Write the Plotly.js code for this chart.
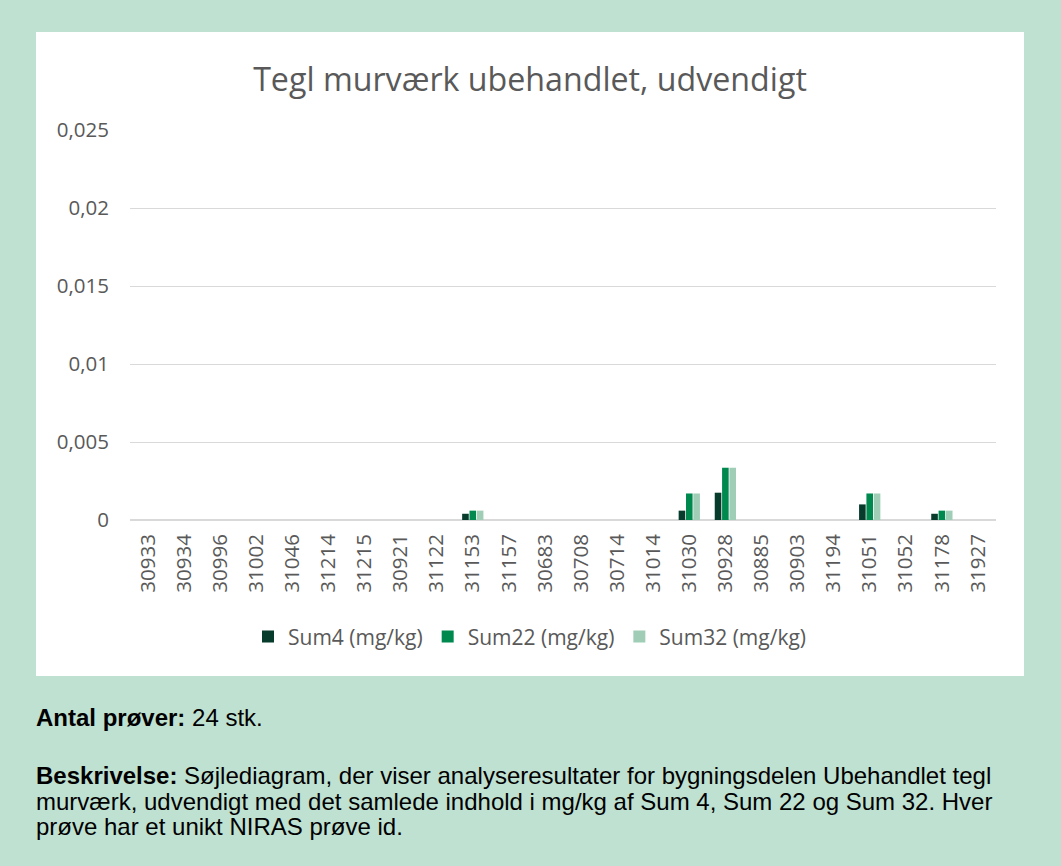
<!DOCTYPE html>
<html><head><meta charset="utf-8">
<script src="https://cdn.plot.ly/plotly-3.0.1.min.js"></script>
<style>
html,body{margin:0;padding:0;}
body{width:1061px;height:866px;background:#bfe1d1;position:relative;overflow:hidden;font-family:"Liberation Sans",Arial,sans-serif;}
#panel{position:absolute;left:36px;top:32px;width:988px;height:644px;background:#fff;}
#chart{width:988px;height:644px;}
.txt{position:absolute;left:36px;font-size:24px;color:#000;line-height:25.5px;width:1020px;white-space:nowrap;}
</style></head><body>
<div id="panel"><div id="chart"></div></div>
<div class="txt" style="top:705px;"><b>Antal prøver:</b> 24 stk.</div>
<div class="txt" style="top:763px;"><b>Beskrivelse:</b> Søjlediagram, der viser analyseresultater for bygningsdelen Ubehandlet tegl</div>
<div class="txt" style="top:788.5px;">murværk, udvendigt med det samlede indhold i mg/kg af Sum 4, Sum 22 og Sum 32. Hver</div>
<div class="txt" style="top:814px;">prøve har et unikt NIRAS prøve id.</div>
<script>
var categories = ["30933","30934","30996","31002","31046","31214","31215","30921","31122","31153","31157","30683","30708","30714","31014","31030","30928","30885","30903","31194","31051","31052","31178","31927"];
var sum4  = [0,0,0,0,0,0,0,0,0,0.0004,0,0,0,0,0,0.0006,0.00175,0,0,0,0.001,0,0.0004,0];
var sum22 = [0,0,0,0,0,0,0,0,0,0.0006,0,0,0,0,0,0.0017,0.00335,0,0,0,0.0017,0,0.0006,0];
var sum32 = [0,0,0,0,0,0,0,0,0,0.0006,0,0,0,0,0,0.0017,0.00335,0,0,0,0.0017,0,0.0006,0];
var seriesNames = ["Sum4 (mg/kg)","Sum22 (mg/kg)","Sum32 (mg/kg)"];
var colors = ["#073b2b","#00894f","#a0cdb6"];
var data = [sum4,sum22,sum32].map(function(v,i){
  return {type:"bar",x:categories,y:v,name:seriesNames[i],marker:{color:colors[i]},hoverinfo:"x+y"};
});
var F = "'Open Sans', 'Noto Sans', sans-serif";
var layout = {
  width:988,height:644,
  margin:{l:94,r:28,t:98,b:156,autoexpand:false},
  paper_bgcolor:"#fff",plot_bgcolor:"#fff",
  separators:",.",
  font:{family:F,color:"#595959",size:20},
  title:{text:"Tegl murværk ubehandlet, udvendigt",font:{size:32.2,color:"#595959",family:F},x:0.5,xref:"container",xanchor:"center",y:0.926,yanchor:"middle"},
  barmode:"group",bargap:0.39,bargroupgap:0.1,
  xaxis:{type:"category",tickangle:-90,showgrid:false,showline:false,ticks:"",tickfont:{size:20.5,color:"#595959",family:F},automargin:false,ticklabelstandoff:9},
  yaxis:{range:[0,0.025],dtick:0.005,tick0:0,showgrid:true,gridcolor:"#d9d9d9",gridwidth:1,zeroline:true,zerolinecolor:"#d9d9d9",zerolinewidth:1.5,showline:false,ticks:"",tickfont:{size:20.5,color:"#595959",family:F},automargin:false,ticklabelstandoff:20},
  showlegend:true,
  legend:{orientation:"h",xref:"container",yref:"container",x:0.5,xanchor:"center",y:0.0606,yanchor:"middle",font:{size:21,color:"#595959",family:F},traceorder:"normal",itemwidth:30}
};
Plotly.newPlot("chart",data,layout,{displayModeBar:false,staticPlot:true});
</script>
</body></html>
